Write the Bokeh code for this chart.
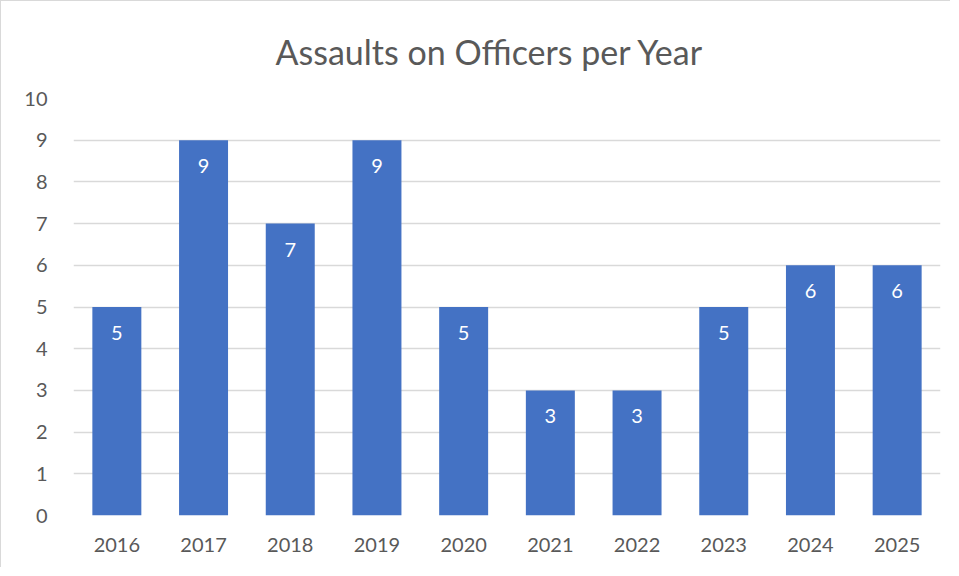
from bokeh.plotting import figure
from bokeh.models import ColumnDataSource, FactorRange, Range1d, FixedTicker
from bokeh.core.properties import value
from bokeh.embed import file_html
from bokeh.resources import INLINE

years = ["2016", "2017", "2018", "2019", "2020", "2021", "2022", "2023", "2024", "2025"]
assaults = [5, 9, 7, 9, 5, 3, 3, 5, 6, 6]
y_ticks = [0, 1, 2, 3, 4, 5, 6, 7, 8, 9, 10]

src = ColumnDataSource(dict(year=years, n=assaults, lbl=[str(v) for v in assaults]))

FONT = "Lato"

p = figure(x_range=FactorRange(*years), y_range=Range1d(0, 10),
           width=950, height=567, output_backend="svg", toolbar_location=None,
           title="Assaults on Officers per Year",
           min_border_left=72, min_border_right=11, min_border_top=97, min_border_bottom=53)
p.styles = {"border-left": "1px solid #d9d9d9", "border-top": "1px solid #d9d9d9"}
p.outline_line_color = None
p.title.align = "left"
p.title.text_font = FONT
p.title.text_font_style = "normal"
p.title.text_font_size = "34px"
p.title.text_color = "#595959"
p.title.standoff = 53
p.title.offset = 202

p.vbar(x="year", top="n", width=0.565, source=src, fill_color="#4472C4", line_color=None)
p.text(x="year", y="n", text="lbl", source=src, text_color="white", text_align="center",
       text_baseline="middle", y_offset=26, text_font=value(FONT), text_font_size="20px")

p.yaxis.ticker = FixedTicker(ticks=y_ticks)
p.ygrid.grid_line_color = "#d9d9d9"
p.ygrid.grid_line_width = 1.5
p.xgrid.grid_line_color = None
for ax in (p.xaxis, p.yaxis):
    ax.axis_line_color = None
    ax.major_tick_line_color = None
    ax.minor_tick_line_color = None
    ax.major_label_text_font = FONT
    ax.major_label_text_font_size = "20px"
    ax.major_label_text_color = "#595959"
p.yaxis.major_label_standoff = 20
p.xaxis.major_label_standoff = 16

open("out.html", "w").write(file_html(p, INLINE))
